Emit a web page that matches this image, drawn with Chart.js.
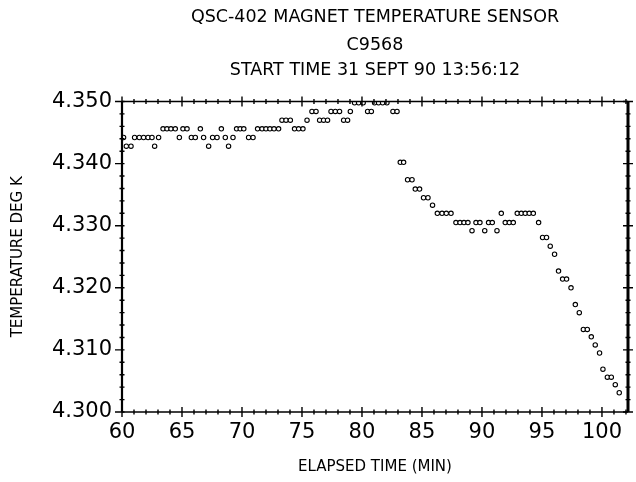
<!DOCTYPE html>
<html>
<head>
<meta charset="utf-8">
<script src="https://cdn.jsdelivr.net/npm/chart.js@4.4.1/dist/chart.umd.min.js"></script>
<style>
  html, body { margin: 0; padding: 0; background: #fff; }
  canvas { display: block; }
</style>
</head>
<body>
<canvas id="myChart" width="636" height="482"></canvas>
<script>
// readings taken off the plot: elapsed time (min) and sensor temperature (K)
var minutes = [
  60.13, 60.36, 60.75, 61.05, 61.44, 61.80, 62.17, 62.50, 62.72, 63.05,
  63.42, 63.75, 64.08, 64.44, 64.78, 65.08, 65.42, 65.78, 66.11, 66.53,
  66.80, 67.22, 67.55, 67.92, 68.28, 68.61, 68.88, 69.25, 69.55, 69.85,
  70.15, 70.55, 70.92, 71.30, 71.67, 72.00, 72.33, 72.67, 73.05, 73.33,
  73.67, 74.03, 74.38, 74.72, 75.08, 75.42, 75.83, 76.17, 76.47, 76.80,
  77.13, 77.42, 77.78, 78.13, 78.47, 78.80, 79.03, 79.38, 79.72, 80.10,
  80.47, 80.78, 81.05, 81.38, 81.72, 82.08, 82.58, 82.92,
  83.19, 83.47, 83.80, 84.17, 84.44, 84.80, 85.13, 85.50, 85.88, 86.28,
  86.67, 87.03, 87.42, 87.83, 88.17, 88.50, 88.83, 89.17, 89.50, 89.83,
  90.23, 90.55, 90.86, 91.25, 91.61, 91.94, 92.28, 92.61, 92.94, 93.28,
  93.61, 93.94, 94.28, 94.72, 95.05, 95.38, 95.69, 96.05, 96.38, 96.72,
  97.05, 97.42, 97.78, 98.11, 98.45, 98.78, 99.11, 99.44, 99.80, 100.08,
  100.45, 100.78, 101.11, 101.44
];
var tempK = [
  4.3442, 4.3428, 4.3428, 4.3442, 4.3442, 4.3442, 4.3442, 4.3442, 4.3428, 4.3442,
  4.3456, 4.3456, 4.3456, 4.3456, 4.3442, 4.3456, 4.3456, 4.3442, 4.3442, 4.3456,
  4.3442, 4.3428, 4.3442, 4.3442, 4.3456, 4.3442, 4.3428, 4.3442, 4.3456, 4.3456,
  4.3456, 4.3442, 4.3442, 4.3456, 4.3456, 4.3456, 4.3456, 4.3456, 4.3456, 4.3470,
  4.3470, 4.3470, 4.3456, 4.3456, 4.3456, 4.3470, 4.3484, 4.3484, 4.3470, 4.3470,
  4.3470, 4.3484, 4.3484, 4.3484, 4.3470, 4.3470, 4.3484, 4.3498, 4.3498, 4.3498,
  4.3484, 4.3484, 4.3498, 4.3498, 4.3498, 4.3498, 4.3484, 4.3484,
  4.3402, 4.3402, 4.3374, 4.3374, 4.3359, 4.3359, 4.3345, 4.3345, 4.3333, 4.3320,
  4.3320, 4.3320, 4.3320, 4.3305, 4.3305, 4.3305, 4.3305, 4.3292, 4.3305, 4.3305,
  4.3292, 4.3305, 4.3305, 4.3292, 4.3320, 4.3305, 4.3305, 4.3305, 4.3320, 4.3320,
  4.3320, 4.3320, 4.3320, 4.3305, 4.3281, 4.3281, 4.3267, 4.3254, 4.3227, 4.3214,
  4.3214, 4.3200, 4.3173, 4.3160, 4.3133, 4.3133, 4.3121, 4.3108, 4.3095, 4.3069,
  4.3056, 4.3056, 4.3044, 4.3031
];

var titleLine = 'QSC-402 MAGNET TEMPERATURE SENSOR';
var subLines = ['C9568', 'START TIME 31 SEPT 90 13:56:12'];
var xTitle = 'ELAPSED TIME (MIN)';
var yTitle = 'TEMPERATURE DEG K';
var xRange = [60, 102.17];
var yRange = [4.300, 4.350];

var points = minutes.map(function (m, i) { return { x: m, y: tempK[i] }; });

var FONT = "'DejaVu Sans', sans-serif";

// plotter style frame with ticks crossing every side
var frameTicks = {
  id: 'frameTicks',
  afterDraw: function (chart) {
    var ctx = chart.ctx, a = chart.chartArea;
    var xs = chart.scales.x, ys = chart.scales.y;
    ctx.save();
    ctx.strokeStyle = '#000';
    ctx.lineWidth = 1.4;
    ctx.beginPath();
    xs.ticks.forEach(function (t) {
      var px = xs.getPixelForValue(t.value);
      var h = Math.round(t.value) % 5 === 0 ? 5 : 2.5;
      ctx.moveTo(px, a.bottom - h); ctx.lineTo(px, a.bottom + h);
      ctx.moveTo(px, a.top - h); ctx.lineTo(px, a.top + h);
    });
    ys.ticks.forEach(function (t) {
      var py = ys.getPixelForValue(t.value);
      var big = Math.round(t.value * 1000) % 10 === 0;
      ctx.moveTo(a.left - (big ? 7 : 2.5), py); ctx.lineTo(a.left + 2.5, py);
      ctx.moveTo(a.right - (big ? 5 : 2.5), py); ctx.lineTo(a.right + (big ? 5 : 2.5), py);
    });
    ctx.stroke();
    ctx.lineWidth = 1.6;
    ctx.beginPath();
    ctx.moveTo(a.left, a.top); ctx.lineTo(a.right, a.top);
    ctx.moveTo(a.left, a.bottom); ctx.lineTo(a.right, a.bottom);
    ctx.stroke();
    ctx.lineWidth = 2.2;
    ctx.beginPath();
    ctx.moveTo(a.left, a.top); ctx.lineTo(a.left, a.bottom);
    ctx.stroke();
    ctx.lineWidth = 3;
    ctx.beginPath();
    ctx.moveTo(a.right, a.top); ctx.lineTo(a.right, a.bottom);
    ctx.stroke();
    ctx.restore();
  }
};

new Chart(document.getElementById('myChart'), {
  type: 'scatter',
  data: {
    datasets: [{
      data: points,
      showLine: false,
      pointStyle: 'circle',
      pointRadius: 2.2,
      pointBorderWidth: 1.1,
      pointBorderColor: '#000',
      pointBackgroundColor: '#fff'
    }]
  },
  options: {
    responsive: false,
    animation: false,
    devicePixelRatio: 1,
    layout: { padding: { left: 0, right: 8, top: 0, bottom: 0 } },
    plugins: {
      legend: { display: false },
      tooltip: { enabled: false },
      title: {
        display: true,
        text: titleLine,
        fullSize: false,
        color: '#000',
        font: { family: FONT, size: 17.5, weight: 'normal', lineHeight: 1.2 },
        padding: { top: 7, bottom: 4.5 }
      },
      subtitle: {
        display: true,
        text: subLines,
        fullSize: false,
        color: '#000',
        font: { family: FONT, size: 17.5, weight: 'normal', lineHeight: 25 / 17.5 },
        padding: { top: 0, bottom: 19 }
      }
    },
    scales: {
      x: {
        type: 'linear',
        min: xRange[0],
        max: xRange[1],
        afterFit: function (s) { s.height = 70; },
        grid: { display: false, drawTicks: false },
        border: { display: false },
        ticks: {
          stepSize: 1,
          autoSkip: false,
          includeBounds: false,
          maxRotation: 0,
          padding: 8,
          color: '#000',
          font: { family: FONT, size: 21 },
          callback: function (v) { return Math.round(v) % 5 === 0 ? String(Math.round(v)) : ''; }
        },
        title: {
          display: true,
          text: xTitle,
          color: '#000',
          font: { family: FONT, size: 15 },
          padding: { top: 0, bottom: 6 }
        }
      },
      y: {
        type: 'linear',
        min: yRange[0],
        max: yRange[1],
        afterFit: function (s) { s.width = 122; },
        grid: { display: false, drawTicks: false },
        border: { display: false },
        ticks: {
          stepSize: 0.002,
          autoSkip: false,
          padding: 10,
          color: '#000',
          font: { family: FONT, size: 21 },
          callback: function (v) { return Math.round(v * 1000) % 10 === 0 ? v.toFixed(3) : ''; }
        },
        title: {
          display: true,
          text: yTitle,
          color: '#000',
          font: { family: FONT, size: 15 },
          padding: { top: 9, bottom: 0 }
        }
      }
    }
  },
  plugins: [frameTicks]
});
</script>
</body>
</html>
